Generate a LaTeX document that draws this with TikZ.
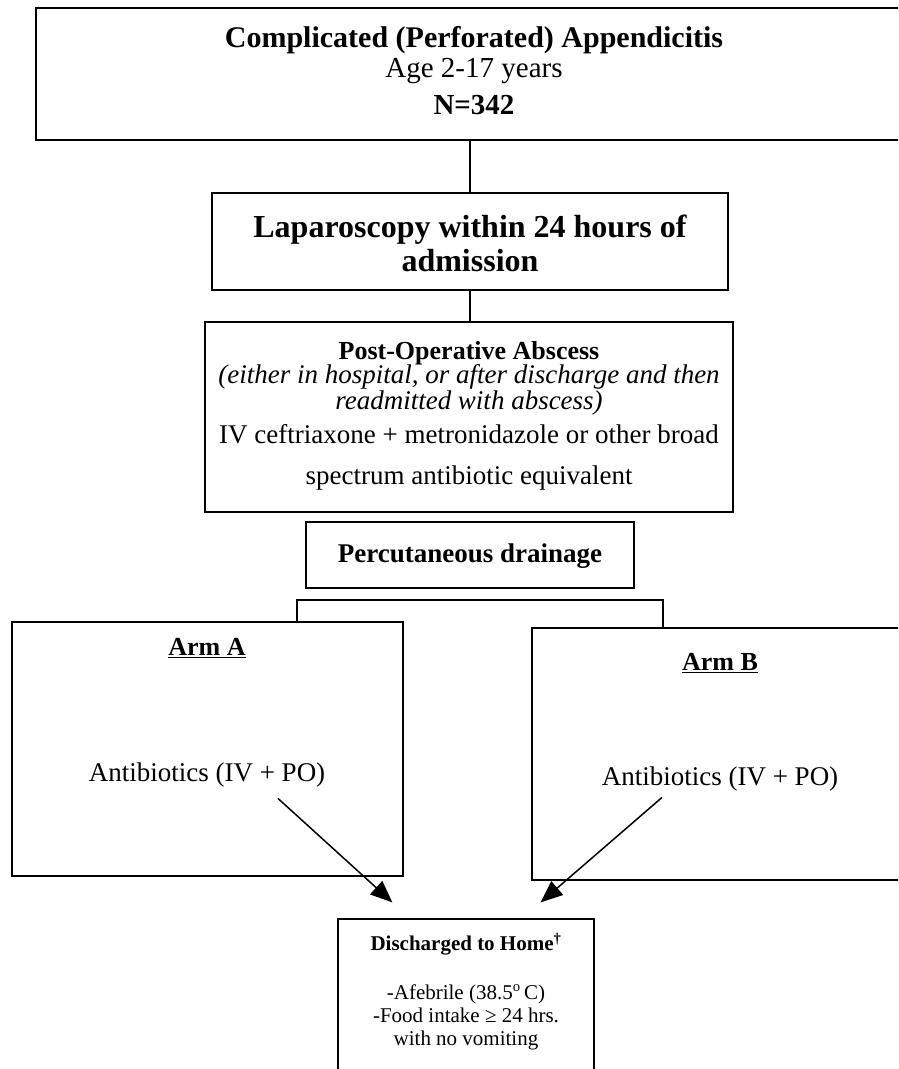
\documentclass[tikz,border=0pt]{standalone}
\usepackage{fontspec}
\setmainfont{Liberation Serif}
\usetikzlibrary{arrows.meta, positioning}

\begin{document}
\begin{tikzpicture}[
    x=1pt, y=-1pt,
    box/.style={draw, line width=1.2pt, inner sep=0pt},
    txt/.style={inner sep=0pt, align=center, font=\fontsize{27}{26}\selectfont},
    btxt/.style={inner sep=0pt, align=center, font=\fontsize{26}{30}\selectfont\bfseries},
    smalltxt/.style={inner sep=0pt, align=center, font=\fontsize{21}{23}\selectfont},
    line/.style={line width=1.2pt},
    arr/.style={-{Triangle[length=22pt, width=18pt]}, line width=1.5pt},
]
\clip (0,0) rectangle (898,1069);

% Eligibility
\node[box, minimum width=894pt, minimum height=132pt] (elig) at (483,74) {};
\node[btxt, font=\fontsize{30}{34}\selectfont\bfseries] (eligtitle) at (474,40) {Complicated (Perforated) Appendicitis};
\node[txt, font=\fontsize{29}{32}\selectfont] (eligage) at (474,71) {Age 2-17 years};
\node[btxt, font=\fontsize{29}{32}\selectfont\bfseries] (eligN) at (474,105) {N=342};

% Surgery
\node[box, minimum width=516pt, minimum height=97pt] (lap) at (470,241.5) {};
\node[btxt, font=\fontsize{32}{34}\selectfont\bfseries] (laptxt) at (470,243) {Laparoscopy within 24 hours of\\admission};

% Abscess
\node[box, minimum width=528pt, minimum height=190pt] (abscess) at (469,417) {};
\node[btxt] (abstitle) at (469,353) {Post-Operative Abscess};
\node[txt, font=\fontsize{27}{26}\selectfont\itshape] (absnote) at (469,390) {(either in hospital, or after discharge and then\\readmitted with abscess)};
\node[txt] (absiv) at (469,434) {IV ceftriaxone + metronidazole or other broad};
\node[txt] (absspec) at (469,478) {spectrum antibiotic equivalent};

% Drainage
\node[box, minimum width=328pt, minimum height=66pt] (drain) at (470,555) {};
\node[btxt, font=\fontsize{27}{30}\selectfont\bfseries] (draintxt) at (470,556) {Percutaneous drainage};

% Arms
\node[box, minimum width=391pt, minimum height=254pt] (armA) at (207.5,749) {};
\node[box, minimum width=376pt, minimum height=252pt] (armB) at (720,754) {};
\node[btxt] (armAlbl) at (207,648) {\underline{Arm A}};
\node[btxt] (armBlbl) at (720,663) {\underline{Arm B}};
\node[txt] (abA) at (207,775) {Antibiotics (IV + PO)};
\node[txt] (abB) at (720,779) {Antibiotics (IV + PO)};

% Randomisation bracket
\coordinate (barL) at (297,600);
\coordinate (barR) at (663,600);
\draw[line] (barL |- armA.north) -- (barL) -- (barR) -- (barR |- armB.north);

\draw[line] (elig.south -| lap.north) -- (lap.north);
\draw[line] (lap.south) -- (abscess.north -| lap.south);

% Discharge
\node[box, minimum width=256pt, minimum height=200pt] (home) at (466,1019) {};
\node[btxt, font=\fontsize{21}{23}\selectfont\bfseries] (hometitle) at (466,944) {Discharged to Home\textsuperscript{\dag}};
\node[smalltxt] (homecrit) at (466,1017) {-Afebrile (38.5\textsuperscript{o}\,C)\\-Food intake ≥ 24 hrs.\\with no vomiting};

\draw[arr] ([shift={(71,11)}]abA.south) -- ([shift={(55,-16)}]home.north west);
\draw[arr] ([shift={(-58,6)}]abB.south) -- ([shift={(-54,-16)}]home.north east);

\end{tikzpicture}
\end{document}
